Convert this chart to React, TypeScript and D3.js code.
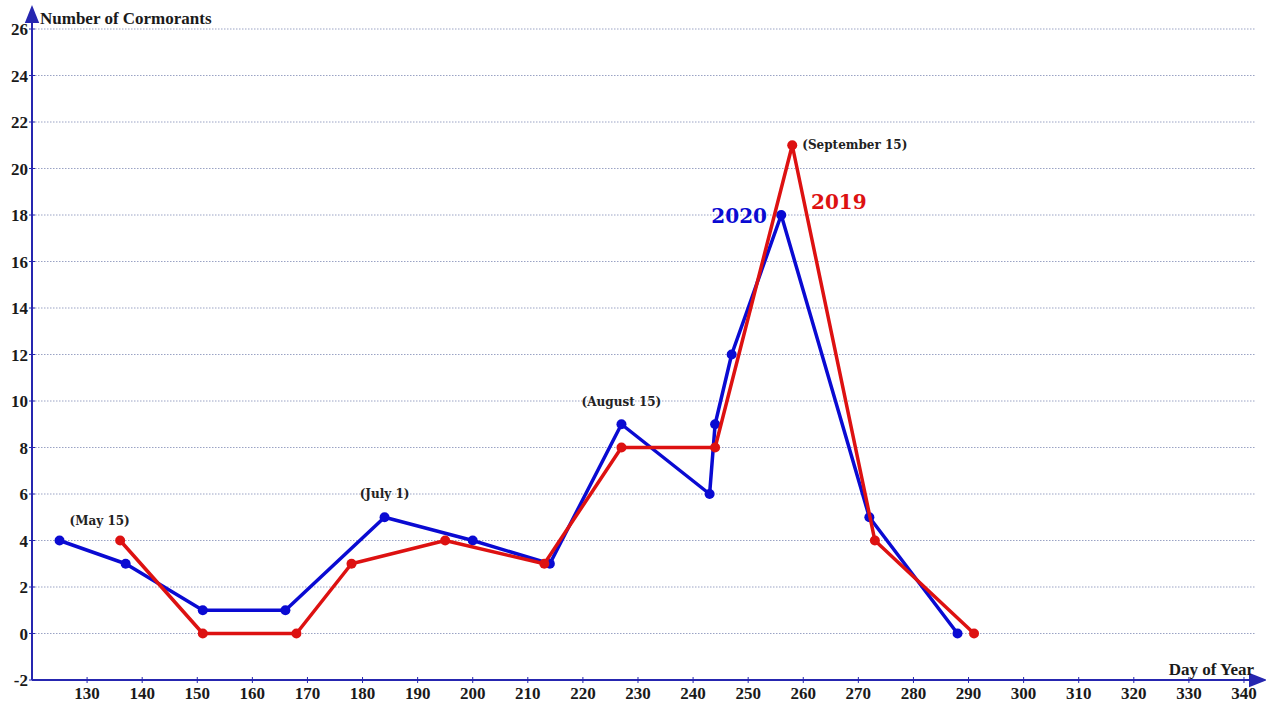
import React, { useEffect, useRef } from 'react';
import * as d3 from 'd3';

const days2020 = [125, 137, 151, 166, 184, 200, 214, 227, 243, 244, 247, 256, 272, 288];
const counts2020 = [4, 3, 1, 1, 5, 4, 3, 9, 6, 9, 12, 18, 5, 0];
const days2019 = [136, 151, 168, 178, 195, 213, 227, 244, 258, 273, 291];
const counts2019 = [4, 0, 0, 3, 4, 3, 8, 8, 21, 4, 0];

const xTicks = d3.range(130, 341, 10);
const yTicks = d3.range(-2, 27, 2);

const notes = [
  { day: 125, value: 4, text: '(May 15)', dx: 10, dy: -16, anchor: 'start' },
  { day: 184, value: 5, text: '(July 1)', dx: 0, dy: -19, anchor: 'middle' },
  { day: 227, value: 9, text: '(August 15)', dx: 0, dy: -18, anchor: 'middle' },
  { day: 258, value: 21, text: '(September 15)', dx: 10, dy: 4, anchor: 'start' },
];

function Chart() {
  const ref = useRef<SVGSVGElement>(null);

  useEffect(() => {
    const svg = d3.select(ref.current);
    svg.selectAll('*').remove();

    const x = d3.scaleLinear().domain([120, 342]).range([32, 1255]);
    const y = d3.scaleLinear().domain([-2, 26]).range([680, 29]);
    const axisColor = '#2626b0';

    // grid
    svg.append('g')
      .selectAll('line')
      .data(yTicks.filter(d => d > -2))
      .enter()
      .append('line')
      .attr('x1', x(120))
      .attr('x2', x(342))
      .attr('y1', d => y(d))
      .attr('y2', d => y(d))
      .attr('stroke', '#9aa3c4')
      .attr('stroke-width', 1)
      .attr('stroke-dasharray', '1.5,1.5');

    // axes
    const defs = svg.append('defs');
    defs.append('marker')
      .attr('id', 'arr')
      .attr('viewBox', '0 0 10 10')
      .attr('refX', 5).attr('refY', 5)
      .attr('markerWidth', 9).attr('markerHeight', 9)
      .attr('orient', 'auto')
      .append('path')
      .attr('d', 'M0,1 L10,5 L0,9 Z')
      .attr('fill', axisColor);

    svg.append('line')
      .attr('x1', x(120)).attr('x2', x(120))
      .attr('y1', y(-2)).attr('y2', 14)
      .attr('stroke', axisColor).attr('stroke-width', 2)
      .attr('marker-end', 'url(#arr)');
    svg.append('line')
      .attr('x1', x(120)).attr('x2', 1258)
      .attr('y1', y(-2)).attr('y2', y(-2))
      .attr('stroke', axisColor).attr('stroke-width', 2)
      .attr('marker-end', 'url(#arr)');

    const font = '"Liberation Serif", "Times New Roman", serif';

    svg.append('g')
      .selectAll('line')
      .data(xTicks)
      .enter()
      .append('line')
      .attr('x1', d => x(d)).attr('x2', d => x(d))
      .attr('y1', y(-2) - 3).attr('y2', y(-2) + 3)
      .attr('stroke', axisColor).attr('stroke-width', 1);
    svg.append('g')
      .selectAll('text')
      .data(xTicks)
      .enter()
      .append('text')
      .attr('x', d => x(d))
      .attr('y', y(-2) + 19)
      .attr('text-anchor', 'middle')
      .attr('font-family', font)
      .attr('font-weight', 'bold')
      .attr('font-size', 17)
      .attr('fill', '#1a1a1a')
      .text(d => d);

    svg.append('g')
      .selectAll('line')
      .data(yTicks)
      .enter()
      .append('line')
      .attr('x1', x(120) - 3).attr('x2', x(120) + 3)
      .attr('y1', d => y(d)).attr('y2', d => y(d))
      .attr('stroke', axisColor).attr('stroke-width', 1);
    svg.append('g')
      .selectAll('text')
      .data(yTicks)
      .enter()
      .append('text')
      .attr('x', x(120) - 4)
      .attr('y', d => y(d) + 6)
      .attr('text-anchor', 'end')
      .attr('font-family', font)
      .attr('font-weight', 'bold')
      .attr('font-size', 17)
      .attr('fill', '#1a1a1a')
      .text(d => d);

    svg.append('text')
      .attr('x', 40).attr('y', 24)
      .attr('font-family', font).attr('font-weight', 'bold').attr('font-size', 17)
      .attr('fill', '#1a1a1a')
      .text('Number of Cormorants');
    svg.append('text')
      .attr('x', 1254).attr('y', 675)
      .attr('text-anchor', 'end')
      .attr('font-family', font).attr('font-weight', 'bold').attr('font-size', 17)
      .attr('fill', '#1a1a1a')
      .text('Day of Year');

    const line = d3.line<[number, number]>()
      .x(d => x(d[0]))
      .y(d => y(d[1]));

    const series = [
      { days: days2020, counts: counts2020, color: '#0a0ad2' },
      { days: days2019, counts: counts2019, color: '#dd1111' },
    ];

    series.forEach(s => {
      const pts = s.days.map((d, i) => [d, s.counts[i]] as [number, number]);
      svg.append('path')
        .datum(pts)
        .attr('d', line)
        .attr('fill', 'none')
        .attr('stroke', s.color)
        .attr('stroke-width', 3.5)
        .attr('stroke-linejoin', 'round');
      svg.append('g')
        .selectAll('circle')
        .data(pts)
        .enter()
        .append('circle')
        .attr('cx', d => x(d[0]))
        .attr('cy', d => y(d[1]))
        .attr('r', 5)
        .attr('fill', s.color);
    });

    const noteFont = '"DejaVu Serif", Georgia, serif';
    svg.append('g')
      .selectAll('text')
      .data(notes)
      .enter()
      .append('text')
      .attr('x', d => x(d.day) + d.dx)
      .attr('y', d => y(d.value) + d.dy)
      .attr('text-anchor', d => d.anchor)
      .attr('font-family', noteFont)
      .attr('font-weight', 'bold')
      .attr('font-size', 12)
      .attr('fill', '#222')
      .text(d => d.text);

    svg.append('text')
      .attr('x', 767).attr('y', 223)
      .attr('text-anchor', 'end')
      .attr('font-family', noteFont).attr('font-weight', 'bold').attr('font-size', 20)
      .attr('fill', '#0a0ad2')
      .text('2020');
    svg.append('text')
      .attr('x', 811).attr('y', 209)
      .attr('font-family', noteFont).attr('font-weight', 'bold').attr('font-size', 20)
      .attr('fill', '#dd1111')
      .text('2019');
  }, []);

  return (
    <svg
      ref={ref}
      width={1266}
      height={702}
      style={{ position: 'absolute', left: 0, top: 0, background: '#fff' }}
    />
  );
}

export default function App() {
  return <Chart />;
}
